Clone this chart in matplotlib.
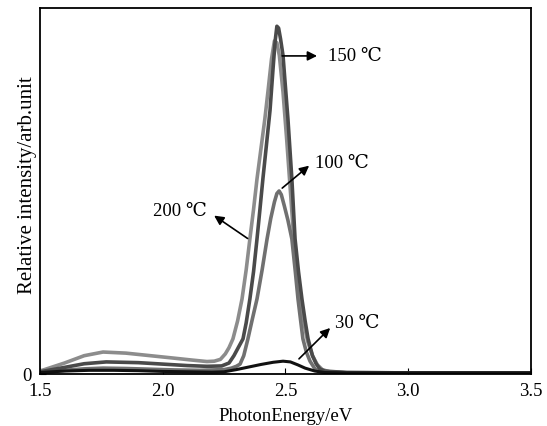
import matplotlib.pyplot as plt

plt.rcParams['font.family'] = ['Liberation Serif', 'DejaVu Serif']

# photon energy (eV) and relative intensity
e_200 = [1.50, 1.60, 1.68, 1.757, 1.85, 1.95, 2.05, 2.12, 2.18, 2.21, 2.235, 2.255,
         2.27, 2.286, 2.305, 2.323, 2.34, 2.355, 2.37, 2.384, 2.40, 2.416, 2.43, 2.443,
         2.455, 2.465, 2.475, 2.49, 2.505, 2.52, 2.535, 2.55, 2.563, 2.578, 2.59, 2.61,
         2.63, 2.65, 2.68, 2.75, 3.00, 3.50]
i_200 = [0.008, 0.030, 0.050, 0.060, 0.057, 0.050, 0.043, 0.038, 0.034, 0.035, 0.040, 0.055,
         0.072, 0.096, 0.145, 0.205, 0.285, 0.369, 0.450, 0.533, 0.615, 0.697, 0.780, 0.860,
         0.910, 0.905, 0.870, 0.770, 0.640, 0.500, 0.360, 0.260, 0.190, 0.130, 0.090, 0.050,
         0.025, 0.012, 0.006, 0.004, 0.003, 0.003]

e_150 = [1.50, 1.60, 1.68, 1.77, 1.90, 2.00, 2.10, 2.18, 2.24, 2.27, 2.29, 2.31,
         2.327, 2.34, 2.355, 2.37, 2.384, 2.396, 2.408, 2.42, 2.437, 2.45, 2.458, 2.465,
         2.472, 2.48, 2.49, 2.498, 2.51, 2.526, 2.539, 2.553, 2.567, 2.58, 2.592, 2.61,
         2.625, 2.64, 2.66, 2.75, 3.00, 3.50]
i_150 = [0.006, 0.018, 0.028, 0.033, 0.031, 0.027, 0.023, 0.021, 0.022, 0.030, 0.050, 0.075,
         0.096, 0.140, 0.205, 0.280, 0.369, 0.450, 0.533, 0.610, 0.720, 0.840, 0.910, 0.950,
         0.945, 0.915, 0.870, 0.800, 0.697, 0.533, 0.369, 0.280, 0.205, 0.145, 0.096, 0.050,
         0.028, 0.014, 0.008, 0.004, 0.003, 0.003]

e_100 = [1.50, 1.60, 1.68, 1.757, 1.85, 1.95, 2.05, 2.15, 2.25, 2.28, 2.30, 2.315,
         2.33, 2.347, 2.365, 2.384, 2.405, 2.425, 2.44, 2.455, 2.465, 2.474, 2.483, 2.495,
         2.51, 2.526, 2.54, 2.551, 2.561, 2.571, 2.585, 2.60, 2.62, 2.64, 2.75, 3.00, 3.50]
i_100 = [0.004, 0.010, 0.014, 0.016, 0.015, 0.013, 0.011, 0.010, 0.012, 0.016, 0.021, 0.027,
         0.050, 0.096, 0.150, 0.205, 0.285, 0.369, 0.425, 0.470, 0.493, 0.500, 0.490, 0.460,
         0.420, 0.369, 0.280, 0.205, 0.150, 0.096, 0.060, 0.035, 0.014, 0.007, 0.003, 0.003, 0.003]

e_30 = [1.50, 1.60, 1.70, 1.80, 1.90, 2.00, 2.10, 2.20, 2.25, 2.30, 2.35, 2.40,
        2.45, 2.49, 2.52, 2.55, 2.58, 2.62, 2.66, 2.75, 3.00, 3.50]
i_30 = [0.004, 0.008, 0.010, 0.010, 0.009, 0.007, 0.006, 0.005, 0.006, 0.012, 0.019, 0.026,
        0.032, 0.035, 0.033, 0.025, 0.016, 0.008, 0.004, 0.003, 0.003, 0.003]

xticks = [1.5, 2.0, 2.5, 3.0, 3.5]

fig = plt.figure(figsize=(5.47, 4.27), dpi=100)
ax = fig.add_axes([0.0731, 0.1218, 0.8976, 0.8572])

ax.plot(e_200, i_200, color='#8c8c8c', lw=2.6)
ax.plot(e_100, i_100, color='#707070', lw=2.6)
ax.plot(e_150, i_150, color='#4a4a4a', lw=2.6)
ax.plot(e_30, i_30, color='#111111', lw=2.2)

arrow = dict(arrowstyle='-|>', color='black', lw=1.2, mutation_scale=14)
fs = 13.5
ax.annotate('', xy=(2.64, 0.869), xytext=(2.475, 0.869), arrowprops=arrow)
ax.text(2.675, 0.869, '150 ℃', fontsize=fs, va='center')
ax.annotate('', xy=(2.605, 0.574), xytext=(2.478, 0.503), arrowprops=arrow)
ax.text(2.62, 0.579, '100 ℃', fontsize=fs, va='center')
ax.annotate('', xy=(2.20, 0.437), xytext=(2.355, 0.366), arrowprops=arrow)
ax.text(2.18, 0.448, '200 ℃', fontsize=fs, va='center', ha='right')
ax.annotate('', xy=(2.69, 0.131), xytext=(2.547, 0.036), arrowprops=arrow)
ax.text(2.70, 0.142, '30 ℃', fontsize=fs, va='center')

ax.set_xlim(1.5, 3.5)
ax.set_ylim(0, 1.0)
ax.set_xticks(xticks)
ax.set_xticklabels([f'{t:.1f}' for t in xticks])
ax.set_yticks([0])
ax.set_yticklabels(['0'])
ax.tick_params(direction='in', labelsize=13.5, length=4)
ax.tick_params(axis='x', pad=6)
ax.tick_params(axis='y', pad=6)
ax.set_xlabel('PhotonEnergy/eV', fontsize=13.5)
ax.set_ylabel('Relative intensity/arb.unit', fontsize=15)
ax.xaxis.set_label_coords(0.5, -0.09)
ax.yaxis.set_label_coords(-0.006, 0.52)
for s in ax.spines.values():
    s.set_linewidth(1.3)

fig.savefig('out.png', dpi=100)
